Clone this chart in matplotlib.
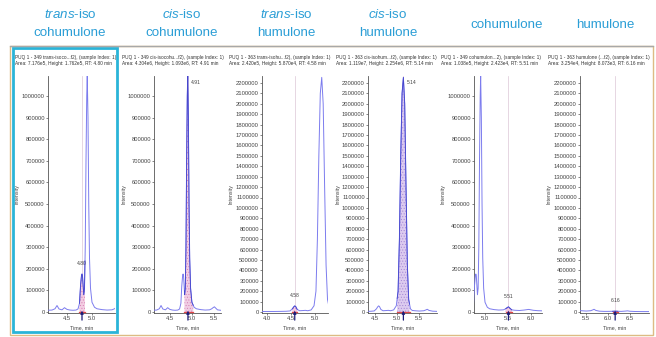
import numpy as np
import matplotlib
matplotlib.use("Agg")
import matplotlib.pyplot as plt
import matplotlib.transforms as mtransforms
from matplotlib import font_manager
from matplotlib.lines import Line2D
from matplotlib.patches import Rectangle
from matplotlib.ticker import MultipleLocator, FormatStrFormatter

W, H = 656, 337

# ---- data ----
# m/z 349 trace (trans-/cis-iso cohumulone, cohumulone)
t349 = [4.10, 4.20, 4.26, 4.30, 4.34, 4.40, 4.45, 4.50, 4.56, 4.62, 4.68, 4.72,
        4.75, 4.77, 4.79, 4.80, 4.81, 4.835, 4.85, 4.865, 4.88, 4.895, 4.905,
        4.92, 4.935, 4.95, 4.97, 5.00, 5.05, 5.10, 5.20, 5.30, 5.40, 5.45,
        5.48, 5.51, 5.54, 5.58, 5.65, 5.75, 5.85, 5.95, 6.05, 6.15, 6.30]
i349 = [8000, 9000, 15000, 30000, 14000, 10000, 20000, 12000, 9000, 8000, 9000, 14000,
        40000, 120000, 170000, 176000, 168000, 80000, 110000, 300000, 700000, 1000000, 1093000,
        900000, 500000, 250000, 110000, 45000, 22000, 15000, 11000, 9000, 10000, 15000,
        20000, 24000, 18000, 10000, 8000, 7000, 9000, 12000, 8000, 6000, 5000]

# m/z 363 trace (trans-/cis-iso humulone, humulone)
t363 = [3.85, 4.00, 4.15, 4.30, 4.40, 4.48, 4.53, 4.56, 4.58, 4.60, 4.63, 4.68,
        4.75, 4.80, 4.85, 4.92, 4.98, 5.02, 5.05, 5.08, 5.11, 5.14, 5.17, 5.20,
        5.23, 5.26, 5.30, 5.34, 5.40, 5.50, 5.60, 5.65, 5.68, 5.72, 5.80, 5.90,
        6.00, 6.10, 6.16, 6.22, 6.30, 6.40, 6.44, 6.50, 6.60, 6.75, 6.95]
i363 = [5000, 5000, 5000, 6000, 7000, 10000, 30000, 50000, 58700, 52000, 25000, 12000,
        14000, 16000, 12000, 20000, 60000, 200000, 700000, 1500000, 2100000, 2254000, 2000000, 1200000,
        450000, 120000, 30000, 15000, 12000, 9000, 12000, 20000, 26000, 15000, 8000, 6000,
        6000, 7000, 8073, 7000, 6000, 9000, 11000, 7000, 5000, 4000, 4000]

italic_part = ["trans", "cis", "trans", "cis", "", ""]
compound = ["cohumulone", "cohumulone", "humulone", "humulone", "cohumulone", "humulone"]
trace_names = ["trans-isoco...f2)", "cis-isocohu...f2)", "trans-isohu...f2)",
               "cis-isohum...f2)", "cohumulon...2)", "humulone (...f2)"]
channels = [349, 349, 363, 363, 349, 363]
areas = [7.176e5, 4.304e6, 2.420e5, 1.119e7, 1.038e5, 3.254e4]
heights = [1.762e5, 1.093e6, 5.870e4, 2.254e6, 2.423e4, 8.073e3]
rts = [4.80, 4.91, 4.58, 5.14, 5.51, 6.16]
int_start = [4.75, 4.83, 4.53, 5.00, 5.45, 6.10]
int_end = [4.86, 5.03, 4.63, 5.28, 5.58, 6.22]
xlims = [(4.12, 5.46), (4.14, 5.66), (3.90, 5.27), (4.34, 5.90), (4.76, 6.24), (5.36, 6.93)]
ytop_tick = [1000000, 1000000, 2200000, 2200000, 1000000, 2200000]

# ---- layout (pixels) ----
ax_left = [48, 154, 262, 368, 474, 580]
ax_right = [115, 221, 328, 437, 542, 649]
header_x = [15, 122, 229, 336, 441, 548]
title_x = [70, 182, 286, 388, 507, 605]
AX_TOP, AX_ZERO = 76, 312

names = {f.name for f in font_manager.fontManager.ttflist}
FAM = "Liberation Sans Narrow" if "Liberation Sans Narrow" in names else "Liberation Sans"
plt.rcParams["font.family"] = FAM
plt.rcParams["mathtext.fontset"] = "custom"
plt.rcParams["mathtext.rm"] = FAM
plt.rcParams["mathtext.it"] = FAM + ":italic"
plt.rcParams["hatch.linewidth"] = 0.4

TITLE_C = "#2b9ed6"
TRACE_C = "#7c7cee"
DARK_C = "#4646cc"
TXT_C = "#444444"
# fill colours per panel: pink for the first ones, purple-ish for cis-iso humulone
fill_face = ["#f3cde2", "#f0cde4", "#f3cde2", "#dccbef", "#f3cde2", "#f3cde2"]
fill_edge = ["#d77fb4", "#d77fb4", "#d77fb4", "#a585d6", "#d77fb4", "#d77fb4"]


def sci(v):
    m, e = f"{v:.3e}".split("e")
    return f"{m}e{int(e)}"


fig = plt.figure(figsize=(W / 100, H / 100), dpi=100)

# outer frame and highlight box
fig.add_artist(Rectangle((10 / W, 1 - 335 / H), 643 / W, 289 / H, transform=fig.transFigure,
                         fill=False, edgecolor="#dcbc84", lw=1.0))
fig.add_artist(Line2D([10 / W, 653 / W], [1 - 46 / H, 1 - 46 / H], transform=fig.transFigure,
                      color="#a8a8a8", lw=1.0))
fig.add_artist(Rectangle((13 / W, 1 - 332 / H), 104 / W, 284 / H, transform=fig.transFigure,
                         fill=False, edgecolor="#2ab4d8", lw=2.0))

for k in range(6):
    # titles
    if italic_part[k]:
        fig.text(title_x[k] / W, 1 - 14 / H, r"$\mathit{%s}$-iso" % italic_part[k],
                 ha="center", va="center", fontsize=9.6, color=TITLE_C)
        fig.text(title_x[k] / W, 1 - 33 / H, compound[k], ha="center", va="center",
                 fontsize=9.6, color=TITLE_C)
    else:
        fig.text(title_x[k] / W, 1 - 25 / H, compound[k], ha="center", va="center",
                 fontsize=9.6, color=TITLE_C)

    # header lines
    fig.text(header_x[k] / W, 1 - 57 / H,
             f"PUQ 1 - {channels[k]} {trace_names[k]}, (sample Index: 1)",
             ha="left", va="center", fontsize=3.4, color="#333333")
    fig.text(header_x[k] / W, 1 - 64 / H,
             f"Area: {sci(areas[k])}, Height: {sci(heights[k])}, RT: {rts[k]:.2f} min",
             ha="left", va="center", fontsize=3.4, color="#333333")

    x0, x1 = ax_left[k], ax_right[k]
    ax = fig.add_axes([x0 / W, 1 - (AX_ZERO + 1) / H, (x1 - x0) / W, (AX_ZERO + 1 - AX_TOP) / H])
    if channels[k] == 349:
        t, y = np.array(t349), np.array(i349, dtype=float)
        tick_px = 96
    else:
        t, y = np.array(t363), np.array(i363, dtype=float)
        tick_px = 83
    per_px = ytop_tick[k] / (AX_ZERO - tick_px)
    ax.set_ylim(-per_px, (AX_ZERO - AX_TOP) * per_px)
    ax.set_xlim(*xlims[k])

    # RT guide line
    ax.axvline(rts[k], color="#dcc6d6", lw=0.5, zorder=1)

    # integrated region, baseline along zero
    a, b = int_start[k], int_end[k]
    tt = np.concatenate([[a], t[(t > a) & (t < b)], [b]])
    yy = np.interp(tt, t, y)
    ax.fill_between(tt, 0, yy, facecolor=fill_face[k], edgecolor=fill_edge[k],
                    hatch="......", lw=0, zorder=2)
    ax.plot(t, y, color=TRACE_C, lw=0.7, zorder=3)
    ax.plot(tt, yy, color=DARK_C, lw=0.6, zorder=4)
    ax.plot([a, b], [0, 0], color="#e04848", lw=0.9, zorder=4, clip_on=False)

    # retention time arrow below the axis
    trans = mtransforms.blended_transform_factory(ax.transData, ax.transAxes)
    ax.annotate("", xy=(rts[k], 0.01), xycoords=trans, xytext=(rts[k], -0.03), textcoords=trans,
                arrowprops=dict(arrowstyle="-|>", color="#1c1c7a", lw=0.9,
                                mutation_scale=4, shrinkA=0, shrinkB=0),
                annotation_clip=False, zorder=6)

    # peak label
    if heights[k] > 0.9 * ax.get_ylim()[1]:
        ax.annotate(f"{rts[k]:.2f}", xy=(rts[k], ax.get_ylim()[1]), xytext=(3, -7),
                    textcoords="offset pixels", ha="left", va="center",
                    fontsize=3.6, color=TXT_C)
    else:
        ax.annotate(f"{rts[k]:.2f}", xy=(rts[k], heights[k]), xytext=(0, 8),
                    textcoords="offset pixels", ha="center", va="bottom",
                    fontsize=3.6, color=TXT_C)

    for s in ("top", "right"):
        ax.spines[s].set_visible(False)
    ax.spines["left"].set_color("#555555")
    ax.spines["bottom"].set_color("#555555")
    ax.spines["left"].set_linewidth(0.6)
    ax.spines["bottom"].set_linewidth(0.6)
    ax.set_facecolor("none")

    ax.set_yticks(np.arange(0, ytop_tick[k] + 1, 100000))
    ax.yaxis.set_major_formatter(FormatStrFormatter("%d"))
    ax.xaxis.set_major_locator(MultipleLocator(0.5))
    ax.xaxis.set_major_formatter(FormatStrFormatter("%.1f"))
    ax.tick_params(length=1.5, width=0.5, pad=0.8, labelsize=4.2, colors="#555555",
                   labelcolor=TXT_C)

    ax.set_xlabel("Time, min", fontsize=3.8, color=TXT_C)
    ax.xaxis.set_label_coords(0.5, -12 / (AX_ZERO - AX_TOP))
    ax.set_ylabel("Intensity", fontsize=3.8, color=TXT_C)
    ax.yaxis.set_label_coords(-28 / (x1 - x0), 0.5)

fig.savefig("out.png", dpi=100)
